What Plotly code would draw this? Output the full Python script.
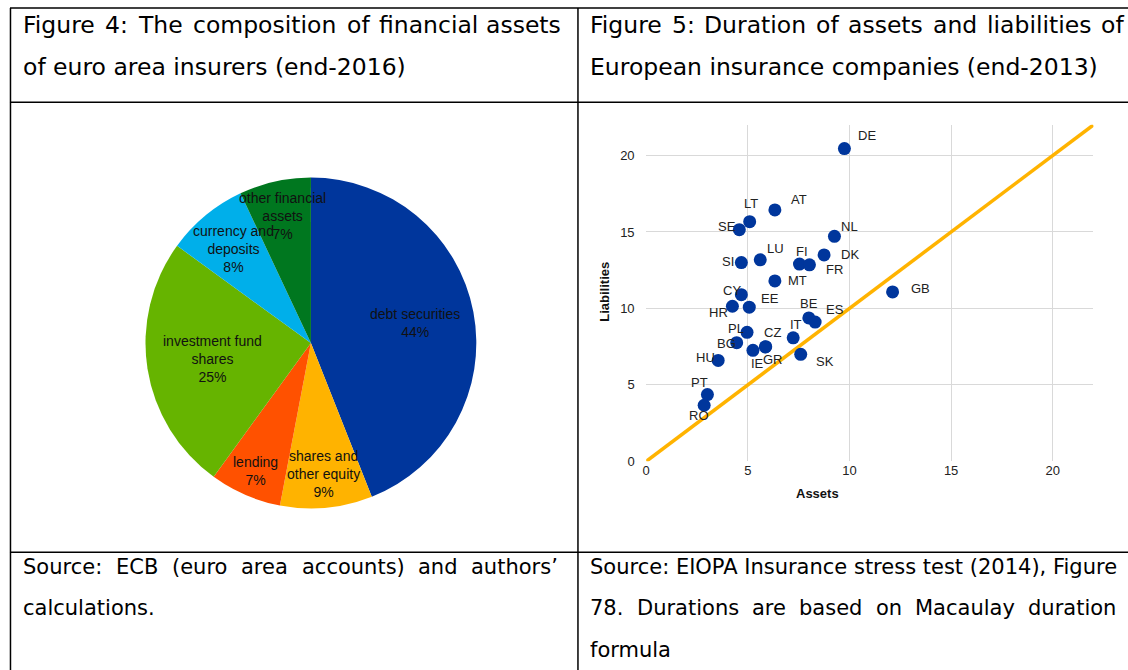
import math
import plotly.graph_objects as go

W, H = 1128, 670          # reference picture size (all positions below are in these px)
FIG_H = 680               # page height that the capture squeezes into 670 px

# ---------------- data: Figure 4 (pie) ----------------
pie_labels = ["debt securities", "shares and other equity", "lending",
              "investment fund shares", "currency and deposits", "other financial assets"]
pie_label_lines = ["debt securities", "shares and<br>other equity", "lending",
                   "investment fund<br>shares", "currency and<br>deposits", "other financial<br>assets"]
pie_values = [44, 9, 7, 25, 8, 7]

# ---------------- data: Figure 5 (scatter) ----------------
countries = ["DE", "AT", "LT", "SE", "NL", "LU", "SI", "FI", "FR", "DK", "MT", "CY", "HR", "EE",
             "BE", "ES", "GB", "PL", "BG", "IE", "CZ", "GR", "IT", "SK", "HU", "PT", "RO"]
assets = [9.75, 6.33, 5.09, 4.58, 9.26, 5.61, 4.68, 7.54, 8.03, 8.75, 6.33, 4.68, 4.24, 5.07,
          8.00, 8.31, 12.12, 4.96, 4.45, 5.25, 5.88, 5.86, 7.23, 7.60, 3.54, 3.01, 2.85]
liabilities = [20.45, 16.44, 15.67, 15.15, 14.71, 13.18, 13.00, 12.90, 12.85, 13.50, 11.80, 10.90,
               10.14, 10.08, 9.38, 9.11, 11.08, 8.44, 7.76, 7.26, 7.50, 7.48, 8.08, 7.00, 6.60,
               4.37, 3.67]
diag = [0, 22]
axis_ticks = [0, 5, 10, 15, 20]

# ---------------- document texts ----------------
header_left_words = ["Figure", "4:", "The", "composition", "of", "financial", "assets"]
header_left_last = "of euro area insurers (end-2016)"
header_right_words = ["Figure", "5:", "Duration", "of", "assets", "and", "liabilities", "of"]
header_right_last = "European insurance companies (end-2013)"
source_left_words = ["Source:", "ECB", "(euro", "area", "accounts)", "and", "authors’"]
source_left_last = "calculations."
source_right_first = "Source: EIOPA Insurance stress test (2014), Figure"
source_right_words = ["78.", "Durations", "are", "based", "on", "Macaulay", "duration"]
source_right_last = "formula"

# ---------------- styles / positions ----------------
pie_colors = ["#00369C", "#FFB300", "#FF5100", "#66B400", "#00AFEA", "#00771F"]
pie_label_radius = [0.64, 0.79, 0.84, 0.60, 0.73, 0.78]
label_off = {"DE": (23, -13), "AT": (24, -10), "LT": (1, -18), "SE": (-12, -3), "NL": (15, -10),
             "LU": (15, -11), "SI": (-13, -1), "FI": (3, -13), "FR": (25, 5), "DK": (26, 0),
             "MT": (23, 0), "CY": (-9, -4), "HR": (-14, 6), "EE": (21, -9), "BE": (0, -14),
             "ES": (20, -13), "GB": (28, -3), "PL": (-11, -4), "BG": (-10, 1), "IE": (5, 13),
             "CZ": (7, -14), "GR": (8, 13), "IT": (3, -13), "SK": (24, 7), "HU": (-13, -3),
             "PT": (-8, -12), "RO": (-5, 10)}
# justified word start positions (px), lines of the document table
TX = -2.5  # glyph bearing correction
header_left_x = [22, 104.3, 136.7, 191.9, 346.9, 379.1, 486.2]
header_right_x = [591, 672.9, 704.9, 817.2, 849.6, 934.5, 988.5, 1103.3]
source_left_x = [22, 115.3, 171.2, 240.7, 301.6, 418.0, 471.1]
source_right_x = [591, 637.6, 753.0, 800.6, 877.2, 916.6, 1029.7]

DOC_FONT = "DejaVu Sans"
CHART_FONT = "Liberation Sans, Arial"
HEAD_SIZE = 23.5
SRC_SIZE = 21


def px(x):
    return x / W


def py(y):
    return 1 - y / H


fig = go.Figure()

# pie geometry (reference px)
pcx, pcy, pr = 308, 342, 166
fig.add_trace(go.Pie(
    labels=pie_labels, values=pie_values, sort=False, direction="clockwise", rotation=0,
    marker=dict(colors=pie_colors, line=dict(width=0)),
    textinfo="none", hoverinfo="label+percent", showlegend=False,
    domain=dict(x=[px(pcx - pr), px(pcx + pr)], y=[py(pcy + pr), py(pcy - pr)]),
))

annotations = []
total = sum(pie_values)
cum = 0
for lab, v, f in zip(pie_label_lines, pie_values, pie_label_radius):
    mid = (cum + v / 2) / total * 2 * math.pi
    cum += v
    lx = pcx + f * pr * math.sin(mid)
    ly = pcy - f * pr * math.cos(mid)
    annotations.append(dict(
        x=px(lx), y=py(ly), xref="paper", yref="paper", showarrow=False,
        text=f"{lab}<br>{round(v / total * 100)}%", align="center",
        font=dict(family=CHART_FONT, size=14, color="#111111"),
        xanchor="center", yanchor="middle"))

# scatter
fig.add_trace(go.Scatter(x=diag, y=diag, mode="lines", line=dict(color="#FFB300", width=3.5),
                         hoverinfo="skip", showlegend=False, xaxis="x", yaxis="y"))
fig.add_trace(go.Scatter(x=assets, y=liabilities, mode="markers", text=countries,
                         marker=dict(size=13, color="#00369C"), showlegend=False,
                         xaxis="x", yaxis="y"))
for c, a, l in zip(countries, assets, liabilities):
    dx, dy = label_off[c]
    annotations.append(dict(x=a, y=l, xref="x", yref="y", text=c, showarrow=False,
                            xshift=dx, yshift=-dy,
                            font=dict(family=CHART_FONT, size=13, color="#222222")))

annotations.append(dict(x=px(840), y=py(502), xref="paper", yref="paper", text="<b>Assets</b>",
                        showarrow=False, font=dict(family=CHART_FONT, size=13, color="#111111")))
annotations.append(dict(x=px(603), y=py(291), xref="paper", yref="paper", text="<b>Liabilities</b>",
                        showarrow=False, textangle=-90,
                        font=dict(family=CHART_FONT, size=13, color="#111111")))


def doc_text(x0, y0, t, size):
    annotations.append(dict(x=px(x0 + TX), y=py(y0), xref="paper", yref="paper", text=t,
                            showarrow=False, xanchor="left", yanchor="middle",
                            borderpad=0, borderwidth=0,
                            font=dict(family=DOC_FONT, size=size, color="#000000")))


head_y = [25, 66.5]
for w, x0 in zip(header_left_words, header_left_x):
    doc_text(x0, head_y[0], w, HEAD_SIZE)
doc_text(22, head_y[1], header_left_last, HEAD_SIZE)
for w, x0 in zip(header_right_words, header_right_x):
    doc_text(x0, head_y[0], w, HEAD_SIZE)
doc_text(591, head_y[1], header_right_last, HEAD_SIZE)

src_y = [565, 606, 648]
for w, x0 in zip(source_left_words, source_left_x):
    doc_text(x0, src_y[0], w, SRC_SIZE)
doc_text(22, src_y[1], source_left_last, SRC_SIZE)
doc_text(591, src_y[0], source_right_first, SRC_SIZE)
for w, x0 in zip(source_right_words, source_right_x):
    doc_text(x0, src_y[1], w, SRC_SIZE)
doc_text(591, src_y[2], source_right_last, SRC_SIZE)

# table lines
shapes = []
lw = 1.5
for y0 in [8, 102, 550.5]:
    shapes.append(dict(type="line", xref="paper", yref="paper", x0=px(6), x1=1.0,
                       y0=py(y0), y1=py(y0), line=dict(color="#000000", width=lw)))
for x0 in [6.5, 576]:
    shapes.append(dict(type="line", xref="paper", yref="paper", x0=px(x0), x1=px(x0),
                       y0=py(8), y1=0.0, line=dict(color="#000000", width=lw)))

axis_common = dict(range=[0, 22], tickvals=axis_ticks, showgrid=True, gridcolor="#D9D9D9",
                   gridwidth=1, zeroline=False, showline=False,
                   tickfont=dict(family=CHART_FONT, size=13, color="#222222"))

fig.update_layout(
    width=W, height=FIG_H, margin=dict(l=0, r=0, t=0, b=0),
    paper_bgcolor="white", plot_bgcolor="white",
    xaxis=dict(domain=[px(644.5), px(1093.3)], anchor="y", ticks="", **axis_common),
    yaxis=dict(domain=[py(460), py(124.5)], anchor="x", ticks="outside", ticklen=8,
               tickcolor="rgba(0,0,0,0)", **axis_common),
    annotations=annotations, shapes=shapes,
)

page_css = ("var s='margin:0;padding:0;overflow:hidden;';"
            "document.documentElement.style.cssText=s;document.body.style.cssText=s;")
fig.write_html("out.html", config={"displayModeBar": False}, post_script=page_css)
